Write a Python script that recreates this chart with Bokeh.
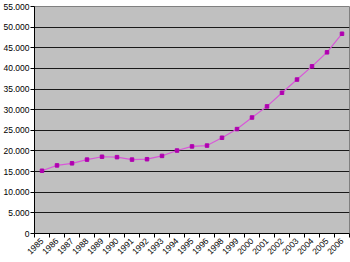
import math
from bokeh.plotting import figure
from bokeh.models import FixedTicker, Range1d
from bokeh.embed import file_html
from bokeh.resources import INLINE

years = ["1985", "1986", "1987", "1988", "1989", "1990", "1991", "1992", "1993",
         "1994", "1995", "1996", "1998", "1999", "2000", "2001", "2002", "2003",
         "2004", "2005", "2006"]
values = [15200, 16500, 17000, 17900, 18600, 18500, 17900, 18000, 18800,
          20100, 21100, 21300, 23200, 25300, 28100, 30800, 34100, 37300,
          40500, 43900, 48400]
y_ticks = [0, 5000, 10000, 15000, 20000, 25000, 30000, 35000, 40000, 45000, 50000, 55000]
y_tick_labels = ["0", "5.000", "10.000", "15.000", "20.000", "25.000", "30.000",
                 "35.000", "40.000", "45.000", "50.000", "55.000"]

n = len(years)
xs = [i + 0.5 for i in range(n)]

p = figure(width=350, height=262, output_backend="svg", toolbar_location=None,
           x_range=Range1d(0, n), y_range=Range1d(0, 55000),
           min_border_left=30, min_border_right=1, min_border_top=6, min_border_bottom=29)
p.background_fill_color = "#C0C0C0"
p.border_fill_color = "white"
p.outline_line_color = "#808080"

p.line(xs, values, line_color="#D858D8", line_width=1.2)
p.scatter(xs, values, marker="square", size=3.5, fill_color="#B000B0", line_color="#B000B0")

# x axis
p.xaxis.ticker = FixedTicker(ticks=xs, minor_ticks=list(range(n + 1)))
p.xaxis.major_label_overrides = {x: y for x, y in zip(xs, years)}
p.xaxis.major_label_orientation = math.pi / 4
p.xaxis.major_tick_out = 0
p.xaxis.major_tick_in = 0
p.xaxis.minor_tick_out = 4
p.xaxis.minor_tick_in = 0
p.xaxis.minor_tick_line_color = "black"
p.xaxis.major_label_standoff = 2

# y axis
p.yaxis.ticker = FixedTicker(ticks=y_ticks)
p.yaxis.major_label_overrides = {t: l for t, l in zip(y_ticks, y_tick_labels)}
p.yaxis.major_tick_out = 4
p.yaxis.major_tick_in = 0
p.yaxis.minor_tick_line_color = None
p.yaxis.major_label_standoff = 1

for ax in (p.xaxis, p.yaxis):
    ax.axis_line_color = "black"
    ax.major_tick_line_color = "black"
    ax.major_label_text_font = "Liberation Sans"
    ax.major_label_text_font_size = "8.5px"
    ax.major_label_text_color = "black"

p.xgrid.grid_line_color = None
p.ygrid.grid_line_color = "#1a1a1a"
p.ygrid.ticker = FixedTicker(ticks=y_ticks)

open("out.html", "w").write(file_html(p, INLINE))
